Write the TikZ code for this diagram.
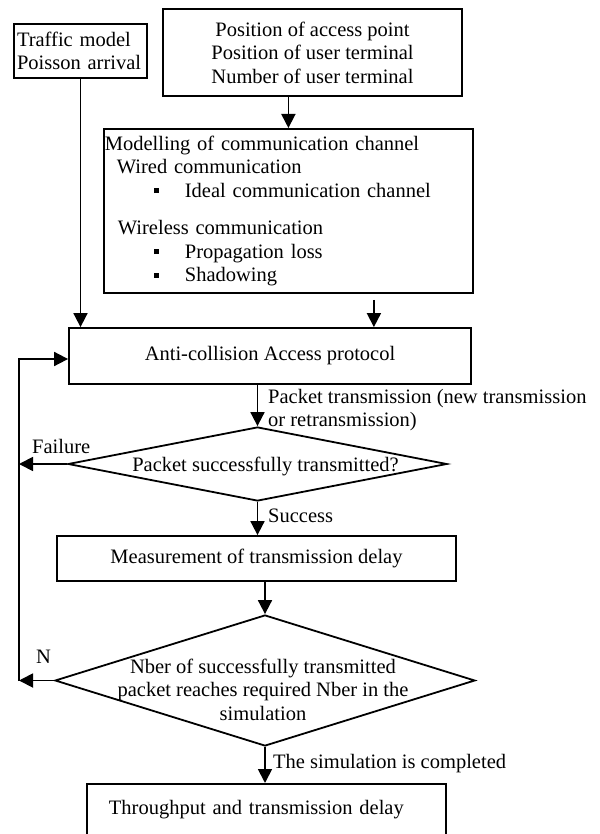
\documentclass[tikz,border=0pt]{standalone}
\usepackage{fontspec}
\setmainfont{Liberation Serif}
\usetikzlibrary{shapes.geometric,arrows.meta}
\newcommand{\blkbul}{\raisebox{4pt}{\rule{5pt}{5pt}}}
\begin{document}
\begin{tikzpicture}[x=1pt,y=-1pt,
  font=\fontsize{20.5}{23.5}\selectfont,
  box/.style={draw,line width=1.8pt,inner sep=0pt},
  dia/.style={draw,diamond,line width=1.8pt,inner sep=0pt},
  arr/.style={line width=1.8pt,-{Triangle[length=14pt,width=14pt]}},
  lbl/.style={inner sep=0pt}]
  \clip (0,0) rectangle (599,834);
  \coordinate (rail) at (19,0);
  % inputs
  \node[box,minimum width=133,minimum height=54,text width=127,align=left] (traffic) at (80.5,51) {Traffic model\\Poisson arrival};
  \node[box,minimum width=299,minimum height=87,align=center] (pos) at (312.5,52.5) {Position of access point\\Position of user terminal\\Number of user terminal};
  \node[box,minimum width=369,minimum height=164,text width=367,inner xsep=1pt,align=left,anchor=north west] (model) at (103,128) {Modelling of communication channel\\
    \hspace*{12pt}Wired communication\\
    \hspace*{49pt}\blkbul\hspace*{26pt}Ideal communication channel\\[14pt]
    \hspace*{13pt}Wireless communication\\
    \hspace*{49pt}\blkbul\hspace*{26pt}Propagation loss\\
    \hspace*{49pt}\blkbul\hspace*{26pt}Shadowing};
  % protocol and checks
  \node[box,minimum width=402,minimum height=56] (anti) at (270,356) {Anti-collision Access protocol};
  \node[dia,minimum width=379,minimum height=74] (d1) at (257.5,464) {};
  \node[lbl] (d1txt) at ([shift={(8,2)}]d1.center) {Packet successfully transmitted?};
  \node[box,minimum width=399,minimum height=45] (meas) at (256.5,558.5) {Measurement of transmission delay};
  \node[dia,minimum width=420,minimum height=131] (d2) at (265,680.5) {};
  \node[lbl,align=center] (d2txt) at ([shift={(-2,9)}]d2.center) {Nber of successfully transmitted\\packet reaches required Nber in the\\simulation};
  \node[box,minimum width=359,minimum height=52,text width=315,inner xsep=22pt,align=left,anchor=north west] (final) at (86,783) {Throughput and transmission delay};
  % connectors
  \draw[arr] (traffic.south) -- (traffic.south |- anti.north);
  \draw[arr] (pos.south -| model.north) -- (model.north);
  \draw[arr] ([shift={(85.5,6)}]model.south) -- ([shift={(85.5,0)}]model.south |- anti.north);
  \draw[arr] (anti.south -| d1.north) -- (d1.north);
  \node[lbl,anchor=north west,align=left] (ptx) at (268,389) {Packet transmission (new transmission\\or retransmission)};
  \draw[arr] (d1.west) -- (d1.west -| rail);
  \node[lbl,anchor=base west] (fail) at (32,453) {Failure};
  \draw[arr] (d1.south) -- (d1.south |- meas.north);
  \node[lbl,anchor=base west] (succ) at (268,522) {Success};
  \draw[arr] (meas.south -| d2.north) -- (d2.north);
  \draw[arr] (d2.west) -- (d2.west -| rail);
  \node[lbl,anchor=base west] (nlbl) at (36,663) {N};
  \draw[arr] (d2.west -| rail) -- ([shift={(0,3)}]anti.west -| rail) -- ([shift={(0,3)}]anti.west);
  \draw[arr] (d2.south) -- (d2.south |- final.north);
  \node[lbl,anchor=base west] (done) at (273,768) {The simulation is completed};
\end{tikzpicture}
\end{document}
